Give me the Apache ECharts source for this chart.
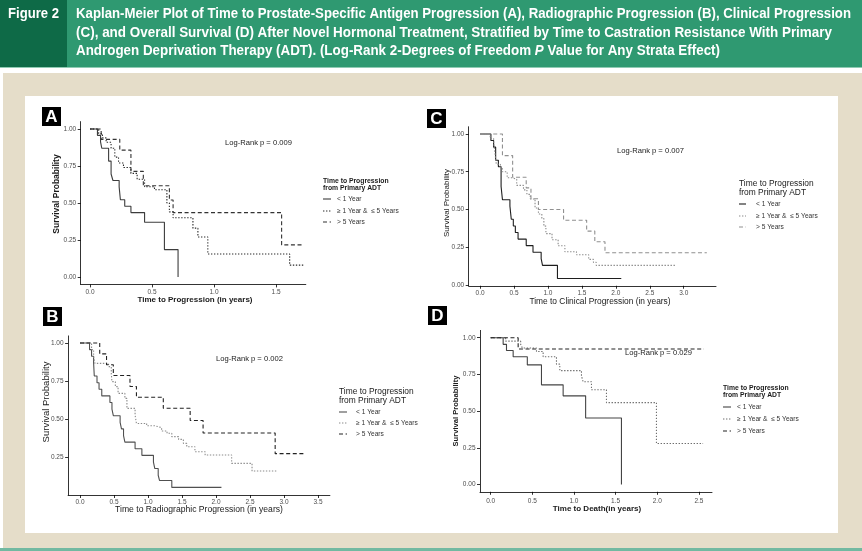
<!DOCTYPE html>
<html><head><meta charset="utf-8">
<script src="https://cdn.jsdelivr.net/npm/echarts@6/dist/echarts.min.js"></script>
<style>html,body{margin:0;padding:0;background:#fff;}#c{width:862px;height:551px;}</style>
</head><body><div id="c"></div>
<script>
// ---------- DATA (time in years, survival probability) ----------
var groupNames = ['< 1 Year', '\u2265 1 Year &  \u2264 5 Years', '> 5 Years'];
var legendTitle = ['Time to Progression', 'from Primary ADT'];
var panelLetters = ['A', 'B', 'C', 'D'];
var xTitles = ['Time to Progression (in years)', 'Time to Radiographic Progression (in years)',
  'Time to Clinical Progression (in years)', 'Time to Death(in years)'];
var yTitle = 'Survival Probability';
var logRank = ['Log-Rank p = 0.009', 'Log-Rank p = 0.002', 'Log-Rank p = 0.007', 'Log-Rank p = 0.029'];
var xTicksA = [0, 0.5, 1.0, 1.5];
var xTicksB = [0, 0.5, 1.0, 1.5, 2.0, 2.5, 3.0, 3.5];
var xTicksC = [0, 0.5, 1.0, 1.5, 2.0, 2.5, 3.0];
var xTicksD = [0, 0.5, 1.0, 1.5, 2.0, 2.5];
var yTicksFull = [0, 0.25, 0.5, 0.75, 1.0];
var yTicksB = [0.25, 0.5, 0.75, 1.0];

var aLess1 = [[0,1],[0.06,0.957],[0.085,0.913],[0.095,0.87],[0.15,0.783],[0.17,0.696],[0.185,0.652],[0.235,0.609],[0.245,0.522],[0.28,0.478],[0.33,0.435],[0.44,0.37],[0.60,0.185],[0.71,0]];
var aMid = [[0,1],[0.07,0.97],[0.10,0.94],[0.13,0.91],[0.17,0.87],[0.20,0.81],[0.23,0.77],[0.27,0.74],[0.33,0.70],[0.38,0.66],[0.44,0.61],[0.52,0.59],[0.62,0.50],[0.64,0.44],[0.67,0.40],[0.83,0.33],[0.87,0.27],[0.95,0.155],[1.61,0.08],[1.72,0.08]];
var aGt5 = [[0,1],[0.09,0.93],[0.24,0.857],[0.33,0.714],[0.43,0.617],[0.64,0.52],[0.67,0.435],[1.545,0.217],[1.72,0.217]];

var bLess1 = [[0,1],[0.14,0.957],[0.17,0.913],[0.20,0.87],[0.21,0.783],[0.25,0.739],[0.28,0.696],[0.32,0.652],[0.44,0.609],[0.47,0.565],[0.49,0.522],[0.59,0.478],[0.61,0.435],[0.64,0.391],[0.66,0.348],[0.81,0.304],[0.91,0.261],[1.08,0.217],[1.10,0.174],[1.15,0.13],[1.17,0.095],[1.35,0.05],[2.08,0.05]];
var bMid = [[0,1],[0.17,0.957],[0.20,0.91],[0.22,0.866],[0.42,0.845],[0.46,0.80],[0.47,0.746],[0.52,0.713],[0.56,0.669],[0.66,0.636],[0.69,0.57],[0.81,0.526],[0.83,0.471],[0.98,0.456],[1.10,0.443],[1.20,0.421],[1.28,0.406],[1.35,0.384],[1.45,0.366],[1.52,0.34],[1.57,0.318],[1.69,0.285],[1.84,0.263],[2.23,0.208],[2.53,0.158],[2.89,0.158]];
var bGt5 = [[0,1],[0.29,0.929],[0.39,0.857],[0.49,0.786],[0.735,0.714],[0.83,0.643],[1.225,0.571],[1.62,0.49],[1.81,0.408],[2.87,0.272],[3.32,0.272]];

var cLess1 = [[0,1],[0.16,0.957],[0.20,0.913],[0.23,0.826],[0.27,0.783],[0.31,0.652],[0.33,0.565],[0.44,0.522],[0.46,0.435],[0.49,0.391],[0.52,0.348],[0.56,0.304],[0.68,0.261],[0.78,0.217],[0.90,0.174],[0.92,0.13],[1.14,0.043],[2.08,0.043]];
var cMid = [[0,1],[0.15,0.97],[0.20,0.95],[0.22,0.87],[0.24,0.80],[0.30,0.78],[0.33,0.75],[0.40,0.71],[0.47,0.70],[0.54,0.66],[0.64,0.63],[0.69,0.60],[0.74,0.57],[0.81,0.51],[0.86,0.47],[0.91,0.44],[0.94,0.39],[0.97,0.34],[1.06,0.30],[1.15,0.26],[1.25,0.22],[1.42,0.20],[1.60,0.17],[1.67,0.15],[1.71,0.13],[2.89,0.13]];
var cGt5 = [[0,1],[0.33,0.857],[0.48,0.714],[0.68,0.643],[0.75,0.571],[0.86,0.50],[1.23,0.429],[1.57,0.357],[1.69,0.286],[1.84,0.214],[3.34,0.214]];

var dLess1 = [[0,1],[0.15,0.955],[0.19,0.913],[0.27,0.87],[0.44,0.815],[0.61,0.679],[0.87,0.604],[1.14,0.453],[1.57,0]];
var dMid = [[0,1],[0.18,0.977],[0.36,0.955],[0.38,0.93],[0.55,0.906],[0.63,0.87],[0.79,0.82],[0.83,0.776],[1.09,0.74],[1.11,0.70],[1.21,0.645],[1.39,0.558],[1.99,0.279],[2.55,0.279]];
var dGt5 = [[0,1],[0.33,0.923],[2.56,0.923]];

var headerLines = [
  'Kaplan-Meier Plot of Time to Prostate-Specific Antigen Progression (A), Radiographic Progression (B), Clinical Progression',
  '(C), and Overall Survival (D) After Novel Hormonal Treatment, Stratified by Time to Castration Resistance With Primary',
  'Androgen Deprivation Therapy (ADT). (Log-Rank 2-Degrees of Freedom P Value for Any Strata Effect)'
];
var figureLabel = 'Figure 2';

// ---------- LAYOUT / STYLE ----------
var FONT = "'Liberation Sans', Arial, sans-serif";
var DOT = [1.4, 1.6], DASH = [4, 2.6];
var panels = [
  {grid:{left:80.7, top:121.6, width:225.1, height:162.8}, x:[-0.075,1.74], y:[-0.05,1.05], xt:xTicksA, yt:yTicksFull,
   data:[aLess1,aMid,aGt5], col:['#3c3c3c','#2a2a2a','#333'], xm:4.5,
   box:[42,107], yT:[57,194,'bold',8.5], xT:[195,299.5,'bold',8], lr:[225,143],
   leg:{x:323, ty:[181,188], tw:'bold', ts:6.8, lx:337, iy:[199,211,222], ll:8}},
  {grid:{left:68.1, top:335.9, width:261.8, height:159.1}, x:[-0.175,3.675], y:[0,1.047], xt:xTicksB, yt:yTicksB,
   data:[bLess1,bMid,bGt5], col:['#505050','#8a8a8a','#222'], xm:4,
   box:[43,307], yT:[46,402,'normal',9.5], xT:[199,510,'normal',8.6], lr:[216,359],
   leg:{x:339, ty:[392,401], tw:'normal', ts:8.4, lx:356, iy:[412,423,434], ll:8}},
  {grid:{left:468.7, top:126.75, width:247.3, height:159.0}, x:[-0.167,3.475], y:[-0.005,1.048], xt:xTicksC, yt:yTicksFull,
   data:[cLess1,cMid,cGt5], col:['#1e1e1e','#8a8a8a','#909090'], xm:4,
   box:[427,109], yT:[447,203,'normal',8], xT:[600,302,'normal',8.4], lr:[617,151],
   leg:{x:739, ty:[184,193], tw:'normal', ts:8.4, lx:756, iy:[204,216,227], ll:7}},
  {grid:{left:480, top:330.4, width:232, height:161.4}, x:[-0.128,2.657], y:[-0.05,1.05], xt:xTicksD, yt:yTicksFull,
   data:[dLess1,dMid,dGt5], col:['#444','#6e6e6e','#222'], xm:5.5,
   box:[428,306], yT:[456,411,'bold',7.6], xT:[597,509,'bold',8], lr:[625,353],
   leg:{x:723, ty:[388,395], tw:'bold', ts:6.8, lx:737, iy:[407,419,431], ll:8}}
];
var dashes = ['solid', DOT, DASH];

var grids=[], xAxes=[], yAxes=[], series=[], gfx=[];
function fmt(d){return function(v){return Number(v).toFixed(d);};}

// background frame
gfx.push({type:'rect', shape:{x:3,y:73,width:859,height:475}, style:{fill:'#e5ddc9'}, z:-100, silent:true});
gfx.push({type:'rect', shape:{x:25,y:96,width:813,height:437}, style:{fill:'#ffffff'}, z:-99, silent:true});
gfx.push({type:'rect', shape:{x:0,y:548,width:862,height:3}, style:{fill:'#72b9a1'}, z:-99, silent:true});
gfx.push({type:'rect', shape:{x:0,y:0,width:862,height:67}, style:{fill:'#2f9971'}, z:-99, silent:true});
gfx.push({type:'rect', shape:{x:0,y:0,width:67,height:67}, style:{fill:'#0e6a47'}, z:-98, silent:true});
gfx.push({type:'rect', shape:{x:0,y:67,width:862,height:1}, style:{fill:'#8fcbb3'}, z:-98, silent:true});

// header texts, horizontally condensed to the measured widths
var mctx = document.createElement('canvas').getContext('2d');
function condensed(txt, x, y, target, size, rich){
  mctx.font = 'bold ' + size + "px 'Liberation Sans'";
  var w = mctx.measureText(txt.replace('{i|','').replace('}','')).width;
  var el = {type:'text', x:x, y:y, scaleX: target / w, scaleY:1, z:100, silent:true,
    style:{text:txt, x:0, y:0, fill:'#fff', font:'bold '+size+'px '+FONT, fontSize:size, fontWeight:'bold', fontFamily:FONT,
      align:'left', verticalAlign:'middle', textAlign:'left', textVerticalAlign:'middle'}};
  if (rich) el.style.rich = rich;
  return el;
}
var HS = 14.5;
gfx.push(condensed(figureLabel, 8, 14, 51, HS));
var headerY = [14, 33, 51], headerW = [775, 756, 644];
for (var h=0; h<3; h++){
  var t = headerLines[h];
  var rich = null;
  if (h===2){ t = t.replace(' P Value', ' {i|P} Value'); rich = {i:{fontStyle:'italic', fontWeight:'bold', fontSize:HS, fontFamily:FONT, fill:'#fff'}}; }
  gfx.push(condensed(t, 76, headerY[h], headerW[h], HS, rich));
}

function txt(s, x, y, size, weight, color, align, rot){
  return {type:'text', x:x, y:y, rotation:rot||0, z:100, silent:true,
    style:{text:s, x:0, y:0, fill:color, font:(weight==='bold'?'bold ':'')+size+'px '+FONT, fontSize:size, fontWeight:weight, fontFamily:FONT,
      align:align||'left', verticalAlign:'middle', textAlign:align||'left', textVerticalAlign:'middle'}};
}

panels.forEach(function(p, i){
  grids.push(Object.assign({show:false, containLabel:false, outerBoundsMode:'none'}, p.grid));
  var axLine = {show:true, onZero:false, lineStyle:{color:'#000', width:0.8}};
  xAxes.push({type:'value', gridIndex:i, min:p.x[0], max:p.x[1], axisLine:axLine,
    axisTick:{show:true, length:3, customValues:p.xt, lineStyle:{color:'#000', width:0.8}},
    axisLabel:{customValues:p.xt, formatter:fmt(1), fontSize:6.5, color:'#4d4d4d', margin:p.xm, fontFamily:FONT},
    splitLine:{show:false}});
  yAxes.push({type:'value', gridIndex:i, min:p.y[0], max:p.y[1], axisLine:axLine,
    axisTick:{show:true, length:3, customValues:p.yt, lineStyle:{color:'#000', width:0.8}},
    axisLabel:{customValues:p.yt, formatter:fmt(2), fontSize:6.5, color:'#4d4d4d', margin:4.5, fontFamily:FONT},
    splitLine:{show:false}});
  p.data.forEach(function(arr, k){
    series.push({type:'line', name:groupNames[k], xAxisIndex:i, yAxisIndex:i, data:arr, step:'end',
      symbol:'none', silent:true, z:3,
      lineStyle:{color:p.col[k], width:1.1, type:dashes[k]}});
  });
  // panel letter box
  gfx.push({type:'rect', shape:{x:p.box[0], y:p.box[1], width:19, height:19}, style:{fill:'#000'}, z:90, silent:true});
  gfx.push(txt(panelLetters[i], p.box[0]+9.5, p.box[1]+10, 17, 'bold', '#fff', 'center'));
  // axis titles
  gfx.push(txt(yTitle, p.yT[0], p.yT[1], p.yT[3], p.yT[2], '#1a1a1a', 'center', Math.PI/2));
  gfx.push(txt(xTitles[i], p.xT[0], p.xT[1], p.xT[3], p.xT[2], '#1a1a1a', 'center'));
  // log-rank
  gfx.push(txt(logRank[i], p.lr[0], p.lr[1], 7.6, 'normal', '#1a1a1a', 'left'));
  // legend
  var L = p.leg;
  gfx.push(txt(legendTitle[0], L.x, L.ty[0], L.ts, L.tw, '#1a1a1a', 'left'));
  gfx.push(txt(legendTitle[1], L.x, L.ty[1], L.ts, L.tw, '#1a1a1a', 'left'));
  for (var k=0; k<3; k++){
    var ld = dashes[k]==='solid' ? null : dashes[k];
    gfx.push({type:'line', shape:{x1:L.x, y1:L.iy[k], x2:L.x+L.ll, y2:L.iy[k]}, z:100, silent:true,
      style:{stroke:p.col[k], lineWidth:1.1, lineDash:ld}});
    gfx.push(txt(groupNames[k], L.lx, L.iy[k], 6.6, 'normal', '#333', 'left'));
  }
});

var chart = echarts.init(document.getElementById('c'), null, {renderer:'canvas'});
chart.setOption({
  animation:false,
  backgroundColor:'#ffffff',
  grid:grids, xAxis:xAxes, yAxis:yAxes, series:series,
  graphic:{elements:gfx}
});
</script></body></html>
